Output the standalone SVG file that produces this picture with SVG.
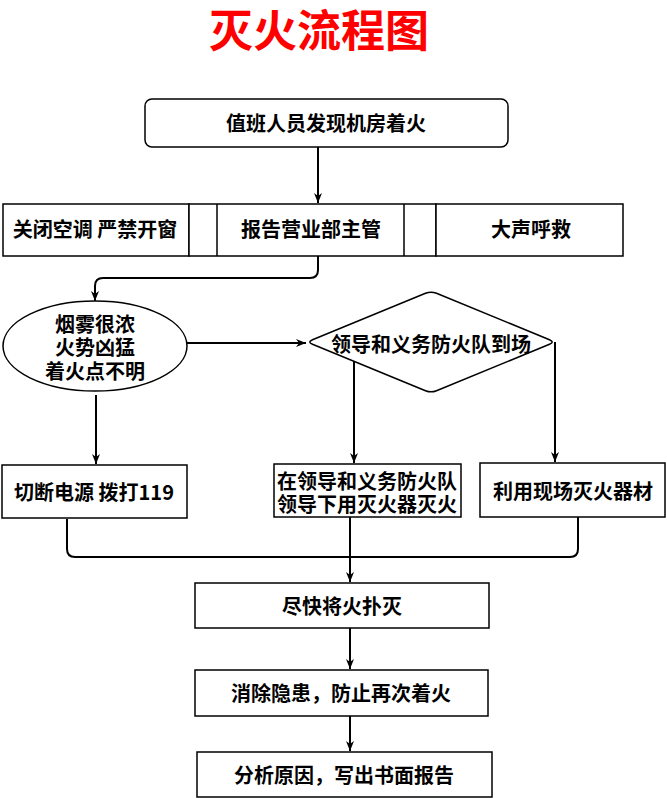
<svg xmlns="http://www.w3.org/2000/svg" width="667" height="798" viewBox="0 0 667 798">
<style>
.box{fill:#fff;stroke:#000;stroke-width:1.5}
.t{font-family:"Noto Sans CJK SC","Noto Sans",sans-serif;font-weight:bold;font-size:20px;fill:#000;text-anchor:middle}
.title{font-family:"Noto Sans CJK SC","Noto Sans",sans-serif;font-weight:bold;font-size:44px;fill:#ff0000;text-anchor:middle}
.c{fill:none;stroke:#000;stroke-width:2}
.ca{fill:none;stroke:#000;stroke-width:2;marker-end:url(#arr)}
</style>
<defs>
<marker id="arr" markerWidth="12" markerHeight="10" refX="11" refY="5" orient="auto" markerUnits="userSpaceOnUse">
<path d="M1,1 L11,5 L1,9 L4,5 Z" fill="#000"/>
</marker>
</defs>
<rect width="667" height="798" fill="#fff"/>
<text class="title" x="319" y="47">灭火流程图</text>

<g id="connectors">
<path class="ca" d="M318,147 V203"/>
<path class="ca" d="M318,256 V270 Q318,278 310,278 H103 Q95,278 95,286 V301"/>
<path class="ca" d="M187,343 H306"/>
<path class="ca" d="M96,395 V464"/>
<path class="ca" d="M354,362 V463"/>
<path class="ca" d="M555,342 V462"/>
<path class="c" d="M67,519 V549 Q67,557 75,557 H570 Q578,557 578,549 V517"/>
<path class="ca" d="M350,517 V582"/>
<path class="ca" d="M350,628 V669"/>
<path class="ca" d="M350,716 V751"/>
</g>

<g id="n_start">
<rect class="box" x="145" y="99" width="363" height="48" rx="7"/>
<text class="t" x="326" y="131">值班人员发现机房着火</text>
</g>

<g id="n_aircon">
<rect class="box" x="3" y="204" width="186" height="52"/>
<text class="t" x="95" y="237">关闭空调 严禁开窗</text>
</g>

<g id="n_report">
<rect class="box" x="189" y="204" width="247" height="52"/>
<line x1="217" y1="204" x2="217" y2="256" stroke="#000" stroke-width="1.5"/>
<line x1="404" y1="204" x2="404" y2="256" stroke="#000" stroke-width="1.5"/>
<text class="t" x="311" y="237">报告营业部主管</text>
</g>

<g id="n_shout">
<rect class="box" x="436" y="204" width="187" height="52"/>
<text class="t" x="531" y="237">大声呼救</text>
</g>

<g id="n_smoke">
<ellipse class="box" cx="95" cy="346" rx="92" ry="45"/>
<text class="t" x="95" y="332">烟雾很浓</text>
<text class="t" x="95" y="355">火势凶猛</text>
<text class="t" x="95" y="379">着火点不明</text>
</g>

<g id="n_arrive">
<path class="box" d="M312.5,339.7 L425.5,293.3 Q431,291 436.5,293.3 L549.5,339.7 Q555,342 549.5,344.3 L436.5,390.7 Q431,393 425.5,390.7 L312.5,344.3 Q307,342 312.5,339.7 Z"/>
<text class="t" x="431" y="352">领导和义务防火队到场</text>
</g>

<g id="n_power">
<rect class="box" x="2" y="465" width="185" height="53"/>
<text class="t" x="94" y="500">切断电源 拨打119</text>
</g>

<g id="n_lead">
<rect class="box" x="274" y="464" width="187" height="53"/>
<text class="t" x="367" y="489">在领导和义务防火队</text>
<text class="t" x="367" y="512">领导下用灭火器灭火</text>
</g>

<g id="n_onsite">
<rect class="box" x="480" y="463" width="185" height="54"/>
<text class="t" x="573" y="499">利用现场灭火器材</text>
</g>

<g id="n_extinguish">
<rect class="box" x="195" y="583" width="294" height="45"/>
<text class="t" x="342" y="614">尽快将火扑灭</text>
</g>

<g id="n_eliminate">
<rect class="box" x="195" y="670" width="293" height="46"/>
<text class="t" x="341" y="701">消除隐患，防止再次着火</text>
</g>

<g id="n_analyze">
<rect class="box" x="197" y="752" width="295" height="45"/>
<text class="t" x="344" y="783">分析原因，写出书面报告</text>
</g>
</svg>
